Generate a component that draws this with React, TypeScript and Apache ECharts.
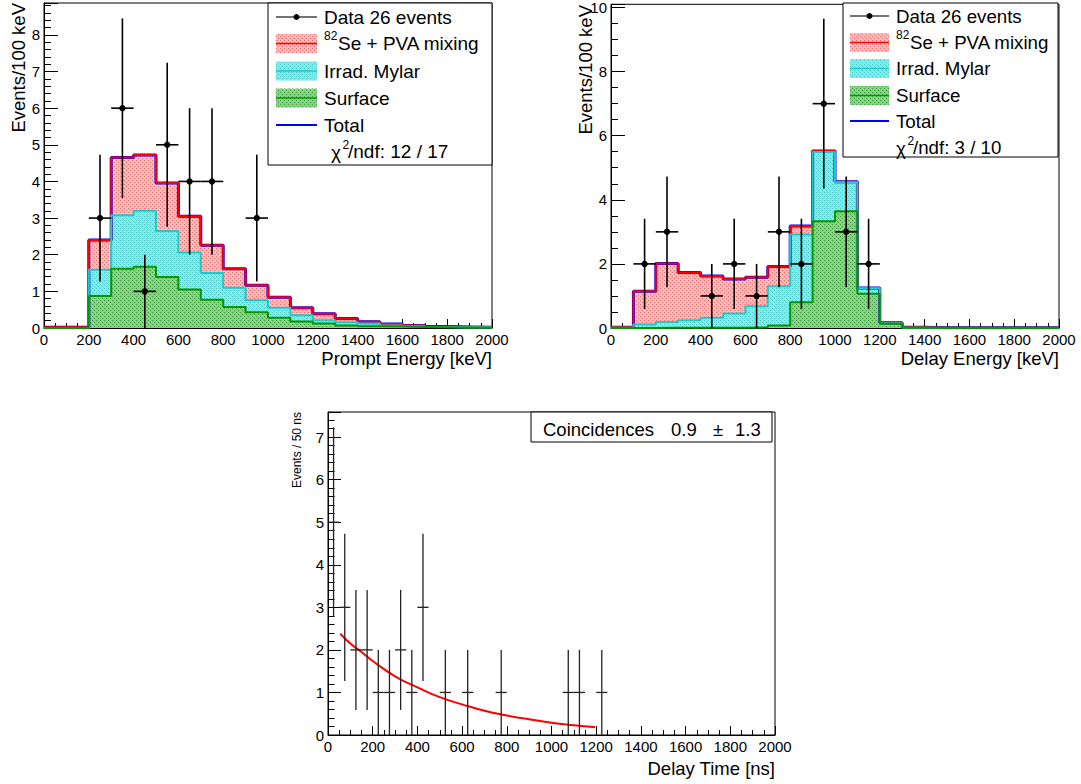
import React, { useEffect, useRef } from "react";
import * as echarts from "echarts";

const FONT = '"Liberation Sans", Arial, Helvetica, sans-serif';

// histogram bin left edges (keV), 100 keV bins up to 2000
const binLefts = [0, 100, 200, 300, 400, 500, 600, 700, 800, 900, 1000, 1100, 1200, 1300, 1400, 1500, 1600, 1700, 1800, 1900];
const binEnd = 2000;

// Prompt energy components (events / 100 keV)
const promptSurface = [0, 0, 0.87, 1.62, 1.67, 1.39, 1.05, 0.77, 0.57, 0.43, 0.28, 0.18, 0.12, 0.07, 0.05, 0.04, 0.03, 0.02, 0.01, 0.01];
const promptMylar = [0, 0, 0.72, 1.46, 1.53, 1.26, 1.01, 0.73, 0.53, 0.33, 0.27, 0.17, 0.09, 0.09, 0.07, 0.03, 0.02, 0.01, 0.01, 0.01];
const promptSe = [0.02, 0.02, 0.81, 1.57, 1.52, 1.31, 0.99, 0.76, 0.52, 0.41, 0.29, 0.2, 0.18, 0.1, 0.05, 0.04, 0.02, 0.01, 0.01, 0];
const promptDataX = [250, 350, 450, 550, 650, 750, 950];
const promptDataY = [3, 6, 1, 5, 4, 4, 3];
const promptDataErr = [1.73, 2.45, 1, 2.24, 2, 2, 1.73];

// Delay energy components (events / 100 keV)
const delaySurface = [0, 0, 0.01, 0.01, 0.01, 0.01, 0.02, 0.08, 0.8, 3.33, 3.64, 1.07, 0.13, 0.01, 0, 0, 0, 0, 0, 0];
const delayMylar = [0.01, 0.11, 0.18, 0.23, 0.31, 0.44, 0.66, 1.22, 2.12, 2.16, 0.91, 0.17, 0.02, 0, 0, 0, 0, 0, 0, 0];
const delaySe = [0.01, 1.04, 1.82, 1.49, 1.3, 1.08, 0.9, 0.62, 0.26, 0.03, 0.01, 0.01, 0.01, 0.01, 0.01, 0.01, 0.01, 0.01, 0.01, 0.01];
const delayDataX = [150, 250, 450, 550, 650, 750, 850, 950, 1050, 1150];
const delayDataY = [2, 3, 1, 2, 1, 3, 2, 7, 3, 2];
const delayDataErr = [1.41, 1.73, 1, 1.41, 1, 1.73, 1.41, 2.65, 1.73, 1.41];

// Delay time (events / 50 ns)
const timeDataX = [25, 75, 125, 175, 225, 275, 325, 375, 425, 525, 625, 775, 1075, 1125, 1225];
const timeDataY = [5, 3, 2, 2, 1, 1, 2, 1, 3, 1, 1, 1, 1, 1, 1];
const timeDataErr = [2.23, 1.73, 1.41, 1.41, 1, 1, 1.41, 1, 1.73, 1, 1, 1, 1, 1, 1];
const fitX = [55, 100, 150, 200, 300, 400, 500, 600, 700, 800, 900, 1000, 1100, 1195];
const fitY = [2.38, 2.15, 1.95, 1.74, 1.38, 1.12, 0.89, 0.72, 0.57, 0.46, 0.37, 0.29, 0.23, 0.18];

function tile(bg: string, dot: string) {
  const svg =
    `<svg xmlns='http://www.w3.org/2000/svg' width='4' height='4'>` +
    `<rect width='4' height='4' fill='${bg}'/>` +
    `<rect x='0' y='0' width='1' height='1' fill='${dot}'/>` +
    `<rect x='2' y='2' width='1' height='1' fill='${dot}'/></svg>`;
  return {
    image: "data:image/svg+xml;charset=utf-8," + encodeURIComponent(svg),
    repeat: "repeat",
    imageWidth: 4,
    imageHeight: 4,
  };
}

const COL = {
  redLine: "#ff0000",
  redFill: tile("#fbbcbc", "#ee6a6a") as any,
  cyanLine: "#1fc9c9",
  cyanFill: tile("#86e7e7", "#44cccc") as any,
  greenLine: "#009a00",
  greenFill: tile("#88d088", "#3f9f3f") as any,
  blue: "#0000ff",
};

function addArr(...arrs: number[][]) {
  return arrs[0].map((_, i) => arrs.reduce((s, a) => s + a[i], 0));
}
function stepData(vals: number[]) {
  const d = vals.map((v, i) => [binLefts[i], v]);
  d.push([binEnd, vals[vals.length - 1]]);
  return d;
}

function histSeries(g: number, surf: number[], mylar: number[], se: number[]) {
  const total = addArr(surf, mylar, se);
  const cyanCum = addArr(surf, mylar);
  const base = { type: "line", xAxisIndex: g, yAxisIndex: g, step: "end", symbol: "none", silent: true };
  return [
    { ...base, name: "Total", data: stepData(total), lineStyle: { color: COL.blue, width: 3 } },
    { ...base, data: stepData(total), lineStyle: { color: COL.redLine, width: 2 }, areaStyle: { color: COL.redFill, opacity: 1 } },
    { ...base, data: stepData(cyanCum), lineStyle: { color: COL.cyanLine, width: 2 }, areaStyle: { color: COL.cyanFill, opacity: 1 } },
    { ...base, data: stepData(surf), lineStyle: { color: COL.greenLine, width: 2 }, areaStyle: { color: COL.greenFill, opacity: 1 } },
  ];
}

function errSeries(g: number, xs: number[], ys: number[], errs: number[], hw: number, marker: boolean, color: string, lw: number) {
  return {
    type: "custom",
    xAxisIndex: g,
    yAxisIndex: g,
    silent: true,
    encode: { x: 0, y: 1 },
    data: xs.map((x, i) => [x, ys[i], errs[i], hw]),
    z: 10,
    renderItem: (params: any, api: any) => {
      const x = api.value(0);
      const y = api.value(1);
      const e = api.value(2);
      const h = api.value(3);
      const c = api.coord([x, y]);
      const lo = api.coord([x, Math.max(0, y - e)]);
      const hi = api.coord([x, y + e]);
      const l = api.coord([x - h, y]);
      const r = api.coord([x + h, y]);
      const st = { stroke: color, lineWidth: lw };
      const children: any[] = [
        { type: "line", shape: { x1: c[0], y1: lo[1], x2: c[0], y2: hi[1] }, style: st },
        { type: "line", shape: { x1: l[0], y1: c[1], x2: r[0], y2: c[1] }, style: st },
      ];
      if (marker) children.push({ type: "circle", shape: { cx: c[0], cy: c[1], r: 3.2 }, style: { fill: "#000" } });
      return { type: "group", children };
    },
  };
}

const plainLabel = (v: number) => String(v);

function xAxisCfg(g: number) {
  return {
    type: "value",
    gridIndex: g,
    min: 0,
    max: 2000,
    interval: 200,
    axisLine: { show: true, onZero: false, lineStyle: { color: "#000", width: 1 } },
    axisTick: { show: true, inside: true, length: 9, lineStyle: { color: "#000" } },
    minorTick: { show: true, splitNumber: 4, length: 5, lineStyle: { color: "#000" } },
    axisLabel: { color: "#000", fontSize: 15, fontFamily: FONT, margin: 4, formatter: plainLabel },
    splitLine: { show: false },
  };
}
function yAxisCfg(g: number, max: number, interval: number, minor: number, tickLen: number) {
  return {
    type: "value",
    gridIndex: g,
    min: 0,
    max,
    interval,
    axisLine: { show: true, onZero: false, lineStyle: { color: "#000", width: 1 } },
    axisTick: { show: true, inside: true, length: tickLen, lineStyle: { color: "#000" } },
    minorTick: { show: true, splitNumber: minor, length: tickLen / 2, lineStyle: { color: "#000" } },
    axisLabel: { color: "#000", fontSize: 15, fontFamily: FONT, margin: 4, showMaxLabel: false, formatter: plainLabel },
    splitLine: { show: false },
  };
}

const LFS = 19;
function txt(text: string, x: number, y: number, size: number, z = 102) {
  return { type: "text", z, x, y, style: { text, font: `${size}px ${FONT}`, fill: "#000", textAlign: "left", textVerticalAlign: "middle" } };
}

function legendGraphics(
  bx0: number, by0: number, bx1: number, by1: number, px0: number, px1: number, tx: number, rows: number[],
  chiText: string, chiX: number, fs: number
) {
  const els: any[] = [];
  els.push({ type: "rect", z: 100, shape: { x: bx0, y: by0, width: bx1 - bx0, height: by1 - by0 }, style: { fill: "#fff", stroke: "#000", lineWidth: 1 } });
  const pc = (px0 + px1) / 2;
  els.push({ type: "line", z: 101, shape: { x1: px0, y1: rows[0], x2: px1, y2: rows[0] }, style: { stroke: "#444", lineWidth: 1.5 } });
  els.push({ type: "circle", z: 101, shape: { cx: pc, cy: rows[0], r: 3 }, style: { fill: "#000" } });
  const patches = [
    [rows[1], COL.redFill, COL.redLine],
    [rows[2], COL.cyanFill, COL.cyanLine],
    [rows[3], COL.greenFill, COL.greenLine],
  ];
  patches.forEach(([y, f, s]: any) => {
    els.push({ type: "rect", z: 101, shape: { x: px0, y: y - 9.5, width: px1 - px0, height: 19 }, style: { fill: f } });
    els.push({ type: "line", z: 102, shape: { x1: px0, y1: y, x2: px1, y2: y }, style: { stroke: s, lineWidth: 1.5 } });
  });
  els.push({ type: "line", z: 101, shape: { x1: px0, y1: rows[4], x2: px1, y2: rows[4] }, style: { stroke: COL.blue, lineWidth: 2 } });
  els.push(txt("Data 26 events", tx, rows[0], fs));
  els.push(txt("82", tx, rows[1] - 8, 12));
  els.push(txt("Se + PVA mixing", tx + 14, rows[1], fs));
  els.push(txt("Irrad. Mylar", tx, rows[2], fs));
  els.push(txt("Surface", tx, rows[3], fs));
  els.push(txt("Total", tx, rows[4], fs));
  els.push(txt("\u03c7", chiX, rows[5] + 1, fs));
  els.push(txt("2", chiX + 11.5, rows[5] - 6, 12));
  els.push(txt("/ndf: " + chiText, chiX + 17, rows[5], fs));
  return els;
}

function titleText(text: string, x: number, y: number, size: number, rotate: boolean) {
  return {
    type: "text",
    z: 50,
    x,
    y,
    rotation: rotate ? Math.PI / 2 : 0,
    style: { text, font: `${size}px ${FONT}`, fill: "#000", textAlign: "right", textVerticalAlign: "middle" },
  };
}

export default function App() {
  const ref = useRef<HTMLDivElement>(null);
  useEffect(() => {
    if (!ref.current) return;
    const chart = echarts.init(ref.current, undefined, { renderer: "svg" });
    const gridBase = { show: true, borderColor: "#000", borderWidth: 1, backgroundColor: "transparent", containLabel: false };
    const option: any = {
      animation: false,
      backgroundColor: "#fff",
      textStyle: { fontFamily: FONT },
      grid: [
        { ...gridBase, left: 44, top: 3, width: 448, height: 325 },
        { ...gridBase, left: 611, top: 3, width: 448, height: 325 },
        { ...gridBase, left: 328, top: 412, width: 447, height: 323 },
      ],
      xAxis: [xAxisCfg(0), xAxisCfg(1), xAxisCfg(2)],
      yAxis: [yAxisCfg(0, 8.87, 1, 5, 14), yAxisCfg(1, 10.1, 2, 4, 14), yAxisCfg(2, 7.59, 1, 5, 13)],
      series: [
        ...histSeries(0, promptSurface, promptMylar, promptSe),
        errSeries(0, promptDataX, promptDataY, promptDataErr, 50, true, "#000", 1.6),
        ...histSeries(1, delaySurface, delayMylar, delaySe),
        errSeries(1, delayDataX, delayDataY, delayDataErr, 50, true, "#000", 1.6),
        {
          type: "line",
          xAxisIndex: 2,
          yAxisIndex: 2,
          smooth: true,
          symbol: "none",
          silent: true,
          data: fitX.map((x, i) => [x, fitY[i]]),
          lineStyle: { color: "#ff0000", width: 2 },
          z: 5,
        },
        errSeries(2, timeDataX, timeDataY, timeDataErr, 25, false, "#222", 1.3),
      ],
      graphic: [
        ...legendGraphics(268, 3, 492, 165, 276, 317, 324, [17, 43.5, 71, 98, 125, 151], "12 / 17", 331, LFS),
        ...legendGraphics(843, 3, 1058, 157, 850, 889, 896, [16, 42.5, 68.5, 95.5, 121, 147], "3 / 10", 896, 18.7),
        titleText("Events/100 keV", 18, 3, 18.5, true),
        titleText("Events/100 keV", 585, 5, 18.5, true),
        titleText("Prompt Energy [keV]", 492, 358, 18.5, false),
        titleText("Delay Energy [keV]", 1059, 358, 18.5, false),
        titleText("Delay Time [ns]", 775, 768, 18.5, false),
        titleText("Events / 50 ns", 297, 412, 12, true),
        { type: "rect", z: 100, shape: { x: 531, y: 412, width: 241, height: 30 }, style: { fill: "#fff", stroke: "#000", lineWidth: 1 } },
        txt("Coincidences", 543, 429, 18.5, 101),
        txt("0.9", 671, 429, 18.5, 101),
        txt("\u00b1", 713, 429, 18.5, 101),
        txt("1.3", 735, 429, 18.5, 101),
      ],
    };
    chart.setOption(option);
    return () => chart.dispose();
  }, []);
  return <div ref={ref} style={{ position: "absolute", left: 0, top: 0, width: 1081, height: 784 }} />;
}
